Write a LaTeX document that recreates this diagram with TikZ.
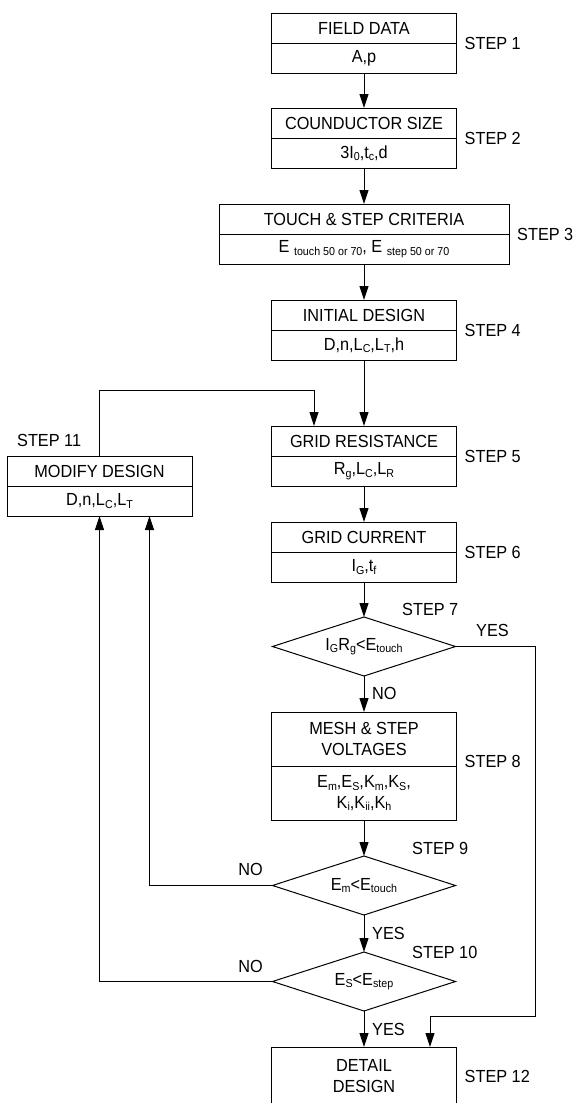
\documentclass[tikz,border=0pt]{standalone}
\usepackage{fontspec}
\setmainfont{Liberation Sans}[FakeStretch=0.93]
\usepackage{tikz}
\usetikzlibrary{
  arrows.meta,      % 实心三角箭头
  positioning,      % 节点相对定位
  shapes.geometric  % 菱形判断框
}
% 下标（文字字体）
\newcommand{\lo}[1]{\raisebox{-2.5pt}{\fontsize{11.5}{11.5}\selectfont #1}}

\tikzset{
  flow/.style={line width=1pt, -{Triangle[length=14pt, width=9pt]}},
  headbox/.style={draw, line width=1pt, minimum width=185pt, minimum height=30pt,
    inner sep=0pt, outer sep=0pt, align=center},
  test/.style={draw, diamond, aspect=3.1, line width=1pt, minimum width=183pt,
    minimum height=59pt, inner sep=0pt, outer sep=0pt},
  steplab/.style={inner sep=0pt, anchor=west}
}

\begin{document}
\begin{tikzpicture}[x=1pt, y=-1pt, font=\fontsize{17.5}{20.5}\selectfont]
  \useasboundingbox (0,0) rectangle (576,1103);

  % 步骤 1 到 6（上下两栏方框）
  \node[headbox] (b1) at (364,28) {FIELD DATA};
  \node[headbox, below=0pt of b1] (b1v) {A,p};
  \node[steplab, right=8pt of b1.south east] (s1) {STEP 1};

  \node[headbox] (b2) at (364,123) {COUNDUCTOR SIZE};
  \node[headbox, below=0pt of b2] (b2v) {3I\lo{0},t\lo{c},d};
  \node[steplab, right=8pt of b2.south east] (s2) {STEP 2};

  \node[headbox, minimum width=290pt] (b3) at (364,219) {TOUCH \& STEP CRITERIA};
  \node[headbox, minimum width=290pt, below=0pt of b3] (b3v)
    {E \lo{touch 50 or 70}, E \lo{step 50 or 70}};
  \node[steplab, right=8pt of b3.south east] (s3) {STEP 3};

  \node[headbox] (b4) at (364,315) {INITIAL DESIGN};
  \node[headbox, below=0pt of b4] (b4v) {D,n,L\lo{C},L\lo{T},h};
  \node[steplab, right=8pt of b4.south east] (s4) {STEP 4};

  \node[headbox] (b5) at (364,441) {GRID RESISTANCE};
  \node[headbox, below=0pt of b5] (b5v) {R\lo{g},L\lo{C},L\lo{R}};
  \node[steplab, right=8pt of b5.south east] (s5) {STEP 5};

  \node[headbox] (b6) at (364,537) {GRID CURRENT};
  \node[headbox, below=0pt of b6] (b6v) {I\lo{G},t\lo{f}};
  \node[steplab, right=8pt of b6.south east] (s6) {STEP 6};

  % 步骤 7
  \node[test] (d7) at (364,646.5) {I\lo{G}R\lo{g}<E\lo{touch}};
  \node[steplab] (s7) at ([xshift=38pt, yshift=8pt]d7.north) {STEP 7};

  % 步骤 8
  \node[headbox, minimum height=54pt] (b8) at (364,739) {MESH \& STEP\\VOLTAGES};
  \node[headbox, minimum height=54pt, below=0pt of b8] (b8v)
    {E\lo{m},E\lo{S},K\lo{m},K\lo{S},\\K\lo{i},K\lo{ii},K\lo{h}};
  \node[steplab, right=8pt of b8.south east, yshift=5pt] (s8) {STEP 8};

  % 步骤 9、10
  \node[test] (d9) at (364,885.5) {E\lo{m}<E\lo{touch}};
  \node[steplab] (s9) at ([xshift=48pt, yshift=8pt]d9.north) {STEP 9};
  \node[test] (d10) at (364,981.5) {E\lo{S}<E\lo{step}};
  \node[steplab] (s10) at ([xshift=48pt]d10.north) {STEP 10};

  % 步骤 11（左侧修改方案）
  \node[headbox] (b11) at (99.5,471) {MODIFY DESIGN};
  \node[headbox, below=0pt of b11] (b11v) {D,n,L\lo{C},L\lo{T}};
  \node[steplab] (s11) at ([xshift=10pt, yshift=16pt]b11.north west) {STEP 11};

  % 步骤 12
  \node[headbox, minimum height=58pt] (b12) at (364,1076) {DETAIL\\DESIGN};
  \node[steplab, right=8pt of b12.east] (s12) {STEP 12};

  % YES / NO
  \node (y7) at ([xshift=37pt, yshift=16pt]d7.east) {YES};
  \node[steplab] (n7) at ([xshift=8pt, yshift=-17pt]d7.south) {NO};
  \node[steplab] (y9) at ([xshift=8pt, yshift=-18pt]d9.south) {YES};
  \node[steplab] (y10) at ([xshift=8pt, yshift=-18pt]d10.south) {YES};
  \node (n9) at ([xshift=-22pt, yshift=16pt]d9.west) {NO};
  \node (n10) at ([xshift=-22pt, yshift=15pt]d10.west) {NO};

  % 主流程箭头
  \draw[flow] (b1v) -- (b2);
  \draw[flow] (b2v) -- (b3);
  \draw[flow] (b3v) -- (b4);
  \draw[flow] (b4v) -- (b5);
  \draw[flow] (b5v) -- (b6);
  \draw[flow] (b6v) -- (d7);
  \draw[flow] (d7) -- (b8);
  \draw[flow] (b8v) -- (d9);
  \draw[flow] (d9) -- (d10);
  \draw[flow] (d10) -- (b12);

  % 反馈与旁路
  \coordinate (bend7) at (535,1016);
  \draw[flow] (d7.east) -| (bend7) -| ([xshift=66pt]b12.north);
  \draw[flow] (d9.west) -| ([xshift=50pt]b11v.south);
  \draw[flow] (d10.west) -| (b11v.south);
  \draw[flow] (b11.north) |- ([xshift=-50pt, yshift=36pt]b5.north) -- ([xshift=-50pt]b5.north);
\end{tikzpicture}
\end{document}
